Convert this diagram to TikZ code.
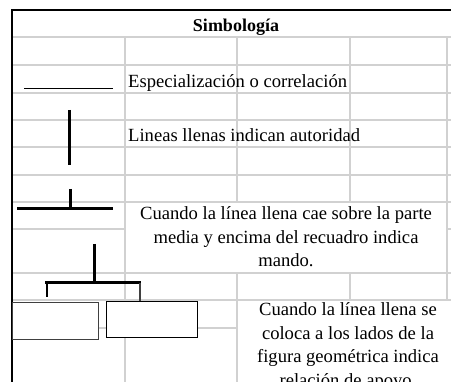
\documentclass[tikz,border=0pt]{standalone}
\usepackage{fontspec}
\setmainfont{Liberation Serif}

\tikzset{
    grid line/.style={draw=black!18, line width=1.2pt},
    frame line/.style={line width=2pt},
    symbol line/.style={line width=3pt},
    txt/.style={font=\fontsize{18.6}{22}\selectfont, inner sep=0pt, anchor=base},
    title/.style={txt, font=\fontsize{18}{22}\selectfont\bfseries},
    box/.style={draw, fill=white, line width=1.3pt, inner sep=0pt, anchor=north west},
}

\begin{document}
\begin{tikzpicture}[x=1pt, y=-1pt]
    \useasboundingbox (0,0) rectangle (451,382);
    \clip (0,0) rectangle (451,382);

    % gray cell lines
    \foreach \y in {37,65,93,120,147,175,202,273,300}
        \draw[grid line] (12,\y) -- (451,\y);
    \draw[grid line] (12,229) -- (125,229);
    \draw[grid line] (447,229) -- (451,229);
    \draw[grid line] (12,328) -- (237,328);
    \draw[grid line] (125,37) -- (125,382);
    \draw[grid line] (237,37) -- (237,202) (237,273) -- (237,382);
    \draw[grid line] (350,37) -- (350,202) (350,273) -- (350,300);
    \draw[grid line] (447,37) -- (447,300);

    % frame
    \draw[frame line] (12,382) -- (12,10) -- (451,10);

    \node[title] (simb) at (236,32) {Simbología};

    % especializacion
    \draw[line width=1pt] (24,89) -- (113,89);
    \node[txt, anchor=base west] (espec) at (128,87.5) {Especialización o correlación};

    % autoridad
    \draw[symbol line] (69,110) -- (69,165);
    \node[txt, anchor=base west] (autor) at (128,142) {Lineas llenas indican autoridad};

    % mando
    \draw[symbol line] (70,189) -- (70,209);
    \draw[symbol line] (17,209) -- (113,209);
    \foreach \t [count=\i from 0] in {Cuando la línea llena cae sobre la parte,
            media y encima del recuadro indica, mando.}
        \node[txt] (mando-\i) at (286,220+23.5*\i) {\t};

    % apoyo
    \node[box, draw=black!75, minimum width=86pt, minimum height=37pt] (left) at (12,302) {};
    \node[box, minimum width=91pt, minimum height=36pt] (right) at (106,301) {};
    \draw[symbol line] (94,244) -- (94,283);
    \draw[symbol line] (45,283) -- (141,283);
    \draw[line width=1.5pt] (47,283) -- (47,297);
    \draw[line width=1.5pt, black!75] (140,283) -- (right.north -| 140,0);
    \foreach \t [count=\i from 0] in {Cuando la línea llena se, coloca a los lados de la,
            figura geométrica indica, relación de apoyo.}
        \node[txt] (apoyo-\i) at (348,316+23.5*\i) {\t};
\end{tikzpicture}
\end{document}
